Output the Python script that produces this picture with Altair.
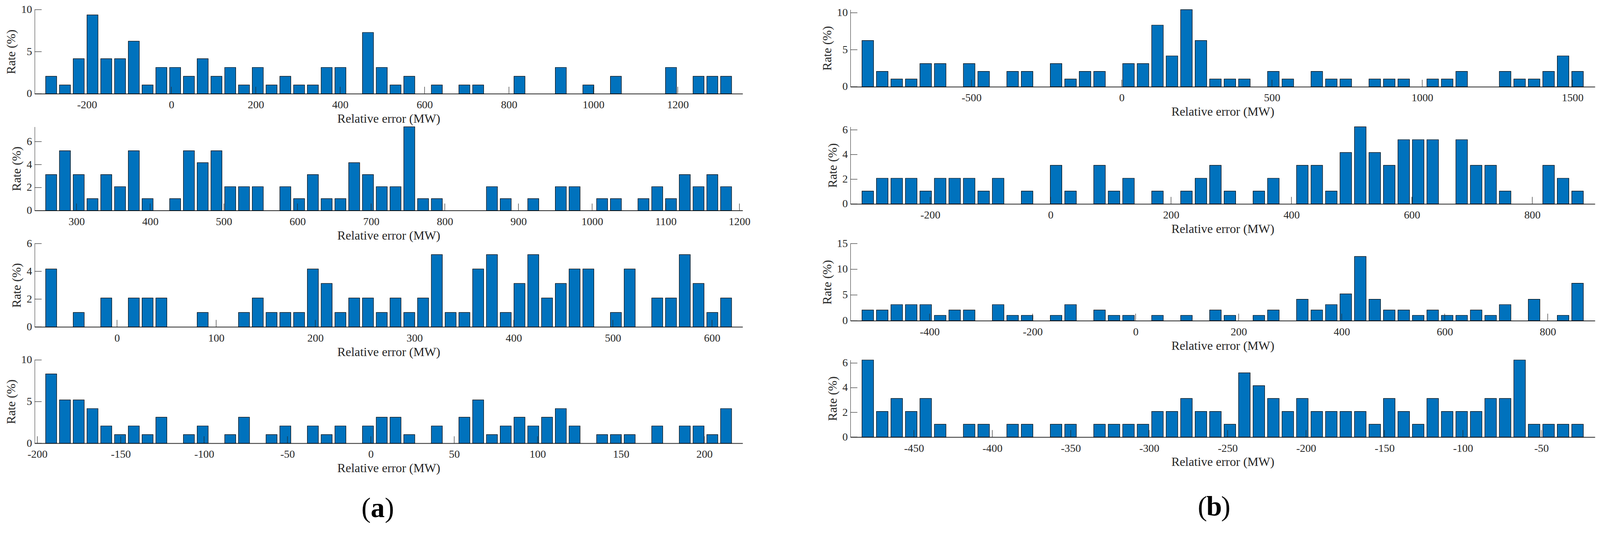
import altair as alt
import pandas as pd

FONT = "Liberation Serif"
BAR_BLUE = "#0072BD"
INK = "#262626"

# ---------------- column (a) ----------------
a1_first_center, a1_bin_width = -284.8, 32.64
a1_rate = [2.08, 1.04, 4.17, 9.38, 4.17, 4.17, 6.25, 1.04, 3.13, 3.13,
           2.08, 4.17, 2.08, 3.13, 1.04, 3.13, 1.04, 2.08, 1.04, 1.04,
           3.13, 3.13, 0, 7.29, 3.13, 1.04, 2.08, 0, 1.04, 0,
           1.04, 1.04, 0, 0, 2.08, 0, 0, 3.13, 0, 1.04,
           0, 2.08, 0, 0, 0, 3.13, 0, 2.08, 2.08, 2.08]
a1_xticks = [-200, 0, 200, 400, 600, 800, 1000, 1200]
a1_yticks = [0, 5, 10]
a1_ymax = 10

a2_first_center, a2_bin_width = 265.6, 18.7
a2_rate = [3.13, 5.21, 3.13, 1.04, 3.13, 2.08, 5.21, 1.04, 0, 1.04,
           5.21, 4.17, 5.21, 2.08, 2.08, 2.08, 0, 2.08, 1.04, 3.13,
           1.04, 1.04, 4.17, 3.13, 2.08, 2.08, 7.29, 1.04, 1.04, 0,
           0, 0, 2.08, 1.04, 0, 1.04, 0, 2.08, 2.08, 0,
           1.04, 1.04, 0, 1.04, 2.08, 1.04, 3.13, 2.08, 3.13, 2.08]
a2_xticks = [300, 400, 500, 600, 700, 800, 900, 1000, 1100, 1200]
a2_yticks = [0, 2, 4, 6]
a2_ymax = 7.29

a3_first_center, a3_bin_width = -66.4, 13.89
a3_rate = [4.17, 0, 1.04, 0, 2.08, 0, 2.08, 2.08, 2.08, 0,
           0, 1.04, 0, 0, 1.04, 2.08, 1.04, 1.04, 1.04, 4.17,
           3.13, 1.04, 2.08, 2.08, 1.04, 2.08, 1.04, 2.08, 5.21, 1.04,
           1.04, 4.17, 5.21, 1.04, 3.13, 5.21, 2.08, 3.13, 4.17, 4.17,
           0, 1.04, 4.17, 0, 2.08, 2.08, 5.21, 3.13, 1.04, 2.08]
a3_xticks = [0, 100, 200, 300, 400, 500, 600]
a3_yticks = [0, 2, 4, 6]
a3_ymax = 6

a4_first_center, a4_bin_width = -191.7, 8.26
a4_rate = [8.33, 5.21, 5.21, 4.17, 2.08, 1.04, 2.08, 1.04, 3.13, 0,
           1.04, 2.08, 0, 1.04, 3.13, 0, 1.04, 2.08, 0, 2.08,
           1.04, 2.08, 0, 2.08, 3.13, 3.13, 1.04, 0, 2.08, 0,
           3.13, 5.21, 1.04, 2.08, 3.13, 2.08, 3.13, 4.17, 2.08, 0,
           1.04, 1.04, 1.04, 0, 2.08, 0, 2.08, 2.08, 1.04, 4.17]
a4_xticks = [-200, -150, -100, -50, 0, 50, 100, 150, 200]
a4_yticks = [0, 5, 10]
a4_ymax = 10

# ---------------- column (b) ----------------
b1_first_center, b1_bin_width = -845.0, 48.2
b1_rate = [6.25, 2.08, 1.04, 1.04, 3.13, 3.13, 0, 3.13, 2.08, 0,
           2.08, 2.08, 0, 3.13, 1.04, 2.08, 2.08, 0, 3.13, 3.13,
           8.33, 4.17, 10.42, 6.25, 1.04, 1.04, 1.04, 0, 2.08, 1.04,
           0, 2.08, 1.04, 1.04, 0, 1.04, 1.04, 1.04, 0, 1.04,
           1.04, 2.08, 0, 0, 2.08, 1.04, 1.04, 2.08, 4.17, 2.08]
b1_xticks = [-500, 0, 500, 1000, 1500]
b1_yticks = [0, 5, 10]
b1_ymax = 10.42

b2_first_center, b2_bin_width = -303.7, 24.06
b2_rate = [1.04, 2.08, 2.08, 2.08, 1.04, 2.08, 2.08, 2.08, 1.04, 2.08,
           0, 1.04, 0, 3.13, 1.04, 0, 3.13, 1.04, 2.08, 0,
           1.04, 0, 1.04, 2.08, 3.13, 1.04, 0, 1.04, 2.08, 0,
           3.13, 3.13, 1.04, 4.17, 6.25, 4.17, 3.13, 5.21, 5.21, 5.21,
           0, 5.21, 3.13, 3.13, 1.04, 0, 0, 3.13, 2.08, 1.04]
b2_xticks = [-200, 0, 200, 400, 600, 800]
b2_yticks = [0, 2, 4, 6]
b2_ymax = 6.25

b3_first_center, b3_bin_width = -520.0, 28.12
b3_rate = [2.08, 2.08, 3.13, 3.13, 3.13, 1.04, 2.08, 2.08, 0, 3.13,
           1.04, 1.04, 0, 1.04, 3.13, 0, 2.08, 1.04, 1.04, 0,
           1.04, 0, 1.04, 0, 2.08, 1.04, 0, 1.04, 2.08, 0,
           4.17, 2.08, 3.13, 5.21, 12.5, 4.17, 2.08, 2.08, 1.04, 2.08,
           1.04, 1.04, 2.08, 1.04, 3.13, 0, 4.17, 0, 1.04, 7.29]
b3_xticks = [-400, -200, 0, 200, 400, 600, 800]
b3_yticks = [0, 5, 10, 15]
b3_ymax = 15

b4_first_center, b4_bin_width = -479.4, 9.234
b4_rate = [6.25, 2.08, 3.13, 2.08, 3.13, 1.04, 0, 1.04, 1.04, 0,
           1.04, 1.04, 0, 1.04, 1.04, 0, 1.04, 1.04, 1.04, 1.04,
           2.08, 2.08, 3.13, 2.08, 2.08, 1.04, 5.21, 4.17, 3.13, 2.08,
           3.13, 2.08, 2.08, 2.08, 2.08, 1.04, 3.13, 2.08, 1.04, 3.13,
           2.08, 2.08, 2.08, 3.13, 3.13, 6.25, 1.04, 1.04, 1.04, 1.04]
b4_xticks = [-450, -400, -350, -300, -250, -200, -150, -100, -50]
b4_yticks = [0, 2, 4, 6]
b4_ymax = 6.25

X_TITLE = "Relative error (MW)"
Y_TITLE = "Rate (%)"

LEFT_W, RIGHT_W = 1820, 1914
TICK_LEN = 18


def panel(first_center, bin_width, rates, xticks, yticks, ymax, width, height, label=None):
    n = len(rates)
    centers = [first_center + bin_width * i for i in range(n)]
    df = pd.DataFrame({"center": centers, "rate": rates})
    df["left"] = df["center"] - 0.4 * bin_width
    df["right"] = df["center"] + 0.4 * bin_width
    df = df[df["rate"] > 0]

    xdom = [centers[0] - 1.2 * bin_width, centers[-1] + 1.2 * bin_width]
    xscale = alt.Scale(domain=xdom, nice=False, zero=False)
    yscale = alt.Scale(domain=[0, ymax], nice=False, zero=True)

    def xaxis():
        return alt.Axis(values=xticks, title=X_TITLE, labelExpr="'' + datum.value")

    def yaxis():
        return alt.Axis(values=yticks, title=Y_TITLE, labelExpr="'' + datum.value")

    bars = alt.Chart(df).mark_bar(
        color=BAR_BLUE, stroke="black", strokeWidth=1.2
    ).encode(
        x=alt.X("left:Q", scale=xscale, axis=xaxis()),
        x2="right:Q",
        y=alt.Y("rate:Q", scale=yscale, axis=yaxis()),
        y2=alt.datum(0),
    )
    xt = alt.Chart(pd.DataFrame({"v": xticks})).mark_rule(
        color=INK, strokeWidth=1.2
    ).encode(
        x=alt.X("v:Q", scale=xscale, axis=xaxis()),
        y=alt.value(height),
        y2=alt.value(height - TICK_LEN),
    )
    yt = alt.Chart(pd.DataFrame({"v": yticks})).mark_rule(
        color=INK, strokeWidth=1.2
    ).encode(
        y=alt.Y("v:Q", scale=yscale, axis=yaxis()),
        x=alt.value(0),
        x2=alt.value(TICK_LEN),
    )
    layers = [bars, xt, yt]
    if label is not None:
        letter, cx, cy = label
        size = 72
        for txt, weight, dx in (("(", "normal", -30), (letter, "bold", 0), (")", "normal", 30)):
            layers.append(
                alt.Chart(pd.DataFrame({"t": [txt]})).mark_text(
                    font=FONT, fontSize=size, fontWeight=weight, color="black",
                    align="center", baseline="alphabetic"
                ).encode(text="t:N", x=alt.value(cx + dx), y=alt.value(cy))
            )
    return alt.layer(*layers).properties(width=width, height=height)


a1 = panel(a1_first_center, a1_bin_width, a1_rate, a1_xticks, a1_yticks, a1_ymax, LEFT_W, 216)
a2 = panel(a2_first_center, a2_bin_width, a2_rate, a2_xticks, a2_yticks, a2_ymax, LEFT_W, 215)
a3 = panel(a3_first_center, a3_bin_width, a3_rate, a3_xticks, a3_yticks, a3_ymax, LEFT_W, 214)
a4 = panel(a4_first_center, a4_bin_width, a4_rate, a4_xticks, a4_yticks, a4_ymax, LEFT_W, 214,
           label=("a", 882, 404))

b1 = panel(b1_first_center, b1_bin_width, b1_rate, b1_xticks, b1_yticks, b1_ymax, RIGHT_W, 198)
b2 = panel(b2_first_center, b2_bin_width, b2_rate, b2_xticks, b2_yticks, b2_ymax, RIGHT_W, 198)
b3 = panel(b3_first_center, b3_bin_width, b3_rate, b3_xticks, b3_yticks, b3_ymax, RIGHT_W, 198)
b4 = panel(b4_first_center, b4_bin_width, b4_rate, b4_xticks, b4_yticks, b4_ymax, RIGHT_W, 198,
           label=("b", 935, 400))

chart = alt.ConcatChart(
    concat=[a1, b1, a2, b2, a3, b3, a4, b4],
    columns=2,
    spacing={"row": 85, "column": 277},
    bounds="flush",
).properties(
    padding={"left": 5, "top": 0, "right": 5, "bottom": 5},
    background="white",
).configure_view(
    stroke=None
).configure_axis(
    labelFont=FONT, labelFontSize=28, labelColor=INK,
    titleFont=FONT, titleFontSize=32, titleFontWeight="normal", titleColor=INK,
    grid=False, ticks=False, domainColor=INK, labelOverlap=False,
).configure_axisX(
    labelPadding=15, titlePadding=6, domainWidth=2, labelFlush=False,
).configure_axisY(
    labelPadding=7, titlePadding=8, domainWidth=1,
)

chart.save("out.html", embed_options={"renderer": "svg", "actions": False})
